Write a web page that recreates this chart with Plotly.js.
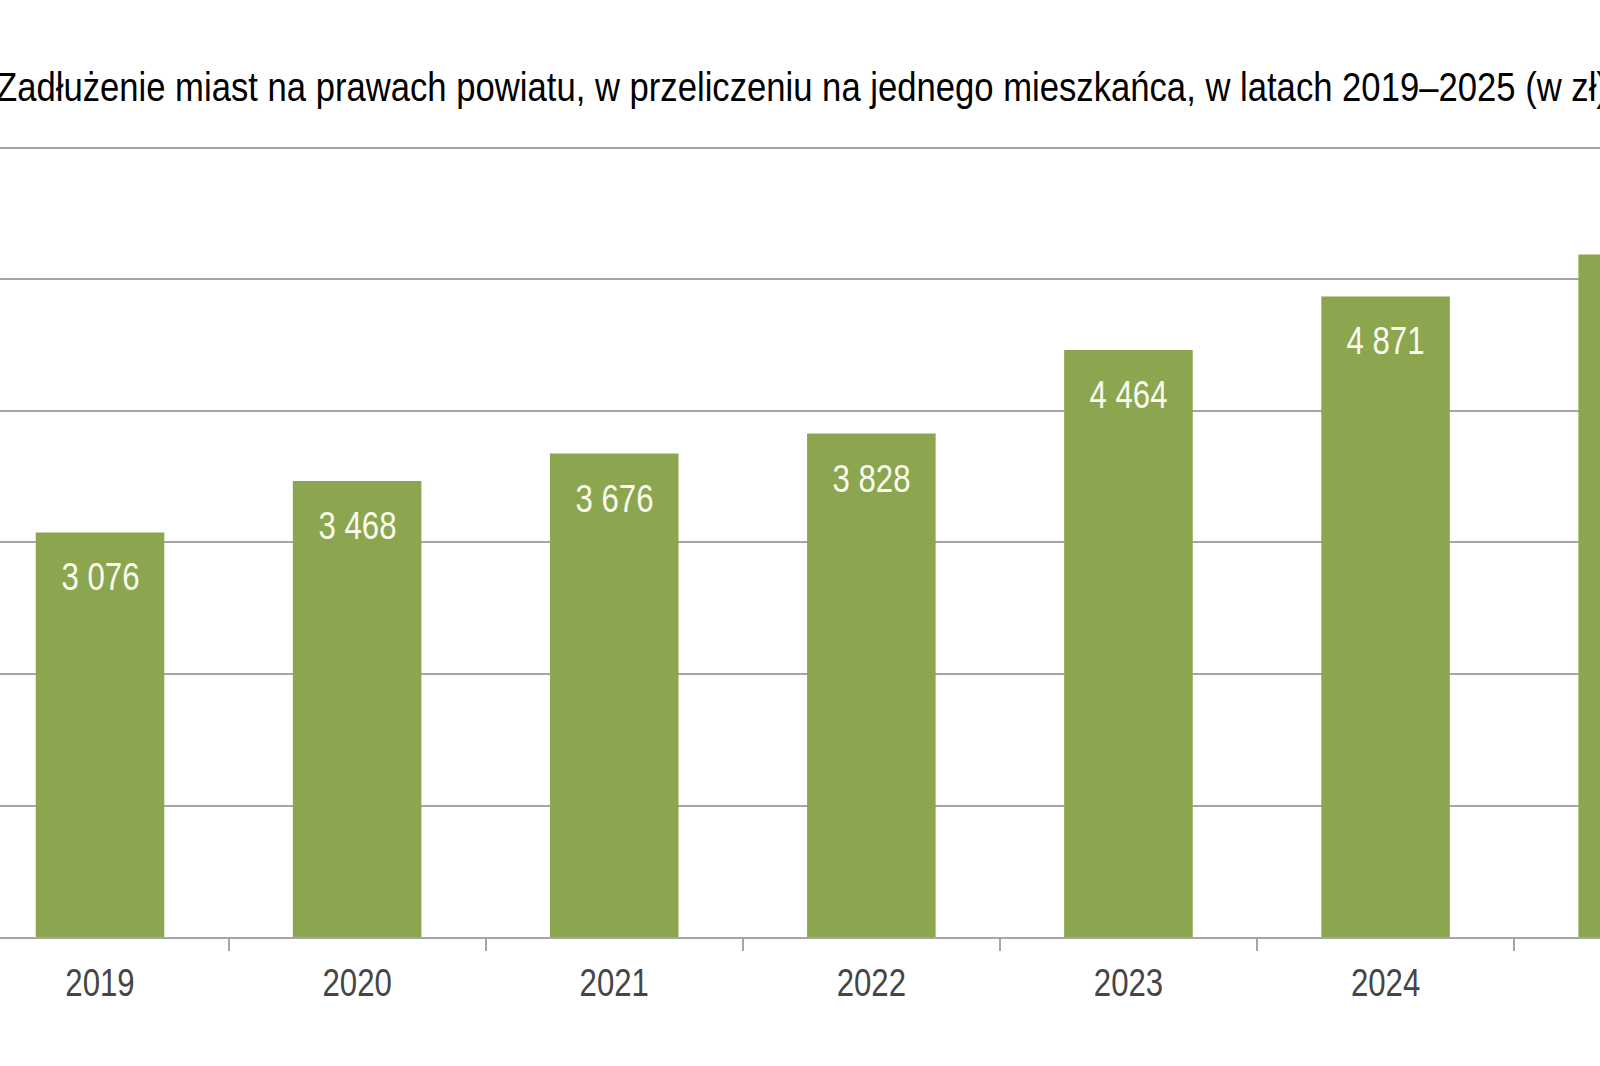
<!DOCTYPE html>
<html lang="pl">
<head>
<meta charset="utf-8">
<script src="https://cdn.plot.ly/plotly-3.0.1.min.js"></script>
<style>
  html, body { margin: 0; padding: 0; background: #ffffff; overflow: hidden; }
  #chart { width: 1600px; height: 1066px; }
</style>
</head>
<body>
<div id="chart"></div>
<script>
// Zadłużenie na mieszkańca (zł), miasta na prawach powiatu
const years = ['2019', '2020', '2021', '2022', '2023', '2024', '2025'];
const debtPerCapita = [3076, 3468, 3676, 3828, 4464, 4871, 5190];
const chartTitle = 'Zadłużenie miast na prawach powiatu, w przeliczeniu na jednego mieszkańca, w latach 2019–2025 (w zł)';

const FONT = '"Liberation Sans", Arial, sans-serif';
const NARROW = 0.82;          // horizontal squeeze giving a narrow face
const TITLE_NARROW = 0.845;
const BAR_COLOR = '#8ba64f';
const GRID_COLOR = '#a6a6a6';

// Polish thousands grouping: "3 076"
function fmt(v) {
  return String(Math.round(v)).replace(/\B(?=(\d{3})+(?!\d))/g, ' ');
}

const trace = {
  type: 'bar',
  x: years,
  y: debtPerCapita,
  marker: { color: BAR_COLOR, line: { width: 0 } },
  hoverinfo: 'x+y'
};

// value labels sit just inside the top of each bar (x given as category index)
const labels = debtPerCapita.map((v, i) => ({
  x: i,
  y: v,
  xref: 'x',
  yref: 'y',
  text: fmt(v),
  showarrow: false,
  yanchor: 'top',
  yshift: -22,
  font: { family: FONT, size: 38, color: '#fbfbf0' }
}));

const layout = {
  width: 1600,
  height: 1066,
  paper_bgcolor: '#ffffff',
  plot_bgcolor: '#ffffff',
  margin: { l: 0, r: 0, t: 146, b: 129 },
  bargap: 0.5,
  showlegend: false,
  title: {
    text: chartTitle,
    xref: 'container',
    yref: 'container',
    x: 0,
    xanchor: 'left',
    y: 1 - 87 / 1066,
    yanchor: 'middle',
    pad: { l: 0, r: 0, t: 0, b: 0 },
    font: { family: FONT, size: 41, color: '#000000' }
  },
  xaxis: {
    type: 'category',
    range: [-0.389, 5.834],
    showgrid: false,
    showline: true,
    linecolor: GRID_COLOR,
    linewidth: 2,
    ticks: 'outside',
    tickson: 'boundaries',
    ticklen: 12,
    tickwidth: 2,
    tickcolor: GRID_COLOR,
    ticklabelstandoff: 11,
    tickfont: { family: FONT, size: 38, color: '#454545' },
    fixedrange: true
  },
  yaxis: {
    range: [0, 6015],
    dtick: 1000,
    showgrid: true,
    gridcolor: GRID_COLOR,
    gridwidth: 2,
    showticklabels: false,
    zeroline: false,
    ticks: '',
    fixedrange: true
  },
  annotations: labels
};

// squeeze every text run horizontally to get the narrow lettering
function narrowText(gd) {
  gd.querySelectorAll('svg text').forEach(t => {
    const w = t.getComputedTextLength();
    if (w <= 0) return;
    const isTitle = t.classList.contains('gtitle');
    const k = isTitle ? TITLE_NARROW : NARROW;
    t.setAttribute('textLength', (w * k).toFixed(2));
    t.setAttribute('lengthAdjust', 'spacingAndGlyphs');
    if (isTitle) {
      // title starts a few pixels left of the page edge
      t.setAttribute('x', (parseFloat(t.getAttribute('x')) - 4).toFixed(2));
    }
  });
}

Plotly.newPlot('chart', [trace], layout, { displayModeBar: false, staticPlot: true })
  .then(narrowText);
</script>
</body>
</html>
